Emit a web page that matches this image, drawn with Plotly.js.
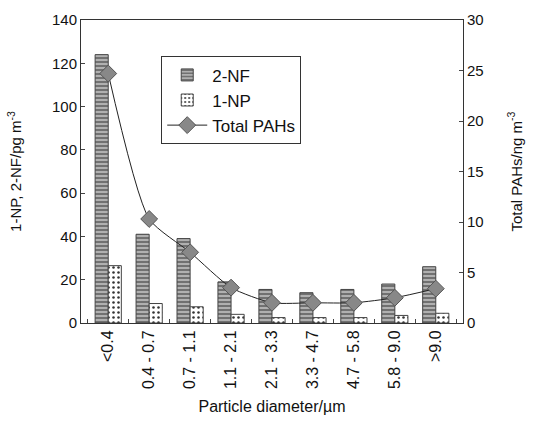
<!DOCTYPE html>
<html><head><meta charset="utf-8">
<script src="https://cdn.plot.ly/plotly-3.0.1.min.js"></script>
<style>html,body{margin:0;padding:0;background:#fff}</style>
</head><body>
<div id="chart" style="width:534px;height:424px"></div>
<script>
const categories = ["<0.4","0.4 - 0.7","0.7 - 1.1","1.1 - 2.1","2.1 - 3.3","3.3 - 4.7","4.7 - 5.8","5.8 - 9.0",">9.0"];
const nf2 = [124, 41, 39, 19, 15.5, 14, 15.5, 18, 26];
const np1 = [26.5, 9, 7.5, 4, 2.5, 2.5, 2.5, 3.5, 4.5];
const totalPAHs = [24.7, 10.3, 7.0, 3.5, 2.0, 2.0, 2.0, 2.5, 3.4];

const font = "Liberation Sans, Arial, sans-serif";
const traces = [
  {type:"bar", name:"2-NF", x:categories, y:nf2,
   marker:{color:"#9a9a9a", line:{color:"#444", width:1},
     pattern:{shape:"-", fgcolor:"#555", bgcolor:"#b0b0b0", size:4, solidity:0.35}}},
  {type:"bar", name:"1-NP", x:categories, y:np1,
   marker:{color:"#fff", line:{color:"#444", width:1},
     pattern:{shape:".", fgcolor:"#333", bgcolor:"#fff", size:5, solidity:0.2}}},
  {type:"scatter", mode:"lines+markers", name:"Total PAHs", x:categories, y:totalPAHs, yaxis:"y2",
   line:{color:"#222", width:1, shape:"spline", smoothing:0.6},
   marker:{symbol:"diamond", size:13, color:"#888", line:{color:"#555", width:1}}}
];
const layout = {
  width:534, height:424,
  margin:{l:81, r:71, t:20, b:101},
  paper_bgcolor:"#fff", plot_bgcolor:"#fff",
  font:{family:font, size:13, color:"#111"},
  barmode:"group", bargap:0.36, bargroupgap:0,
  showlegend:true,
  legend:{x:0.21, y:0.88, xanchor:"left", yanchor:"top", bgcolor:"#fff",
    bordercolor:"#333", borderwidth:1, font:{family:font, size:17}, tracegroupgap:6,
    itemwidth:40},
  xaxis:{type:"category", tickangle:-90, ticks:"inside", tickson:"boundaries", ticklen:4,
    showline:true, linecolor:"#333", mirror:true, tickfont:{size:16},
    title:{text:"Particle diameter/µm", font:{size:16}, standoff:12}},
  yaxis:{range:[0,140], dtick:20, ticks:"inside", ticklen:4, showline:true, linecolor:"#333",
    mirror:true, showgrid:false, zeroline:false, tickfont:{size:15},
    title:{text:"1-NP, 2-NF/pg m<sup>-3</sup>", font:{size:15}, standoff:26}},
  yaxis2:{range:[0,30], dtick:5, overlaying:"y", side:"right", ticks:"inside", ticklen:4,
    showline:true, linecolor:"#333", showgrid:false, zeroline:false, tickfont:{size:15},
    title:{text:"Total PAHs/ng m<sup>-3</sup>", font:{size:15}, standoff:28}}
};
Plotly.newPlot("chart", traces, layout, {displayModeBar:false, staticPlot:true});
</script>
</body></html>
